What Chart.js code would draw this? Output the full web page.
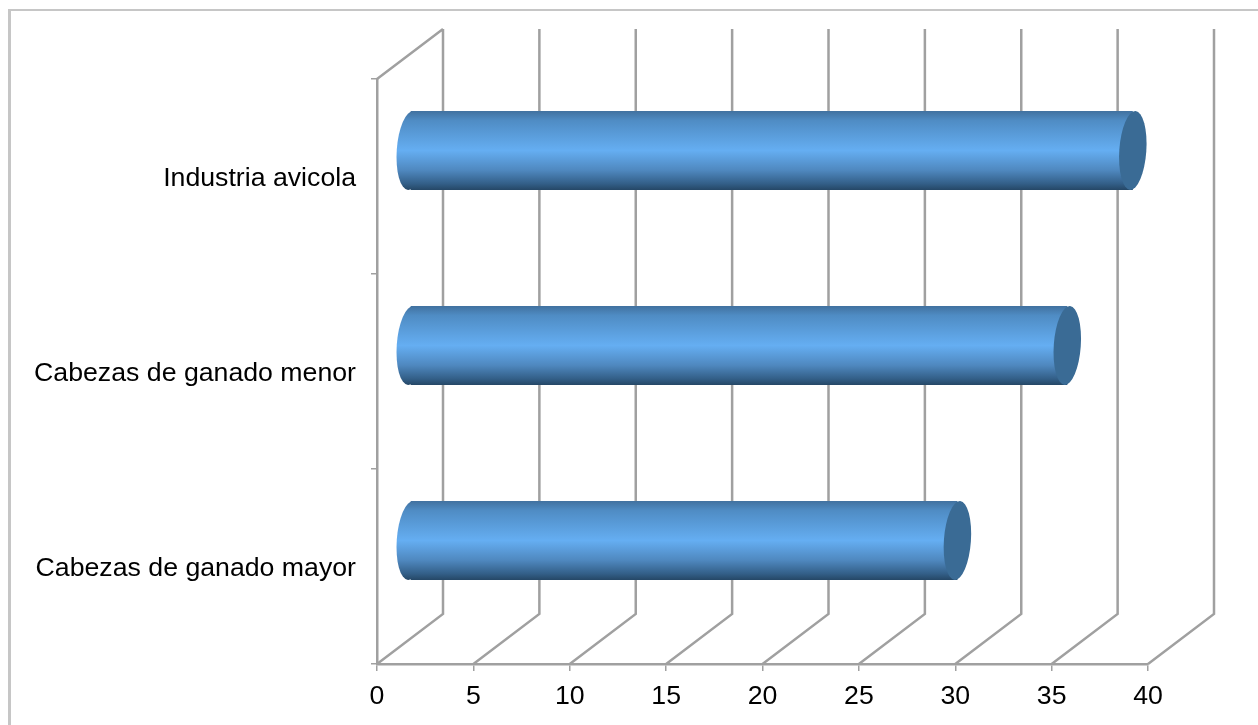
<!DOCTYPE html>
<html>
<head>
<meta charset="utf-8">
<script src="https://cdn.jsdelivr.net/npm/chart.js@4"></script>
<style>
    html, body { margin: 0; padding: 0; background: #fff; }
    #wrap { position: relative; width: 1258px; height: 725px; overflow: hidden; }
    #frame { position: absolute; left: 8px; top: 9px; width: 1300px; height: 800px; border-left: 3px solid #c6c6c6; border-top: 2px solid #c6c6c6; }
    canvas { position: absolute; left: 0; top: 0; }
</style>
</head>
<body>
<div id="wrap">
    <div id="frame"></div>
    <canvas id="chart" width="1258" height="725"></canvas>
</div>
<script>
const categories = ['Industria avicola', 'Cabezas de ganado menor', 'Cabezas de ganado mayor'];
const seriesValues = [37.5, 34.1, 28.4];
const tickLabels = [0, 5, 10, 15, 20, 25, 30, 35, 40];

const wallColor = '#a0a0a0';
const depthX = 66;   // back wall offset
const depthY = 50;
const barShiftX = 33; // bars stand in the middle of the depth
const barShiftY = 26;
const capTilt = 0.07;

function barGradient(ctx, top, bottom) {
    const g = ctx.createLinearGradient(0, top, 0, bottom);
    g.addColorStop(0, '#41719f');
    g.addColorStop(0.12, '#4f8cc4');
    g.addColorStop(0.5, '#65aef2');
    g.addColorStop(0.75, '#4f88bf');
    g.addColorStop(0.92, '#335f88');
    g.addColorStop(1, '#254766');
    return g;
}

// walls of the 3d box, behind everything
const wallsPlugin = {
    id: 'walls',
    beforeDatasetsDraw(chart) {
        const { ctx, chartArea, scales } = chart;
        ctx.save();
        ctx.strokeStyle = wallColor;
        ctx.lineWidth = 2.5;
        ctx.beginPath();
        tickLabels.forEach(function (t) {
            const x = scales.x.getPixelForValue(t);
            ctx.moveTo(x, chartArea.bottom);
            ctx.lineTo(x + depthX, chartArea.bottom - depthY);
            ctx.lineTo(x + depthX, chartArea.top - depthY);
        });
        ctx.moveTo(chartArea.left, chartArea.top);
        ctx.lineTo(chartArea.left + depthX, chartArea.top - depthY);
        ctx.stroke();
        ctx.restore();
    }
};

// shifts the native bars into the depth and adds the round ends
const cylinderPlugin = {
    id: 'cylinder',
    beforeDatasetDraw(chart) {
        const { ctx } = chart;
        ctx.save();
        ctx.translate(barShiftX, -barShiftY);
        chart.getDatasetMeta(0).data.forEach(function (bar) {
            const h = bar.height / 2;
            ctx.fillStyle = barGradient(ctx, bar.y - h, bar.y + h);
            ctx.beginPath();
            ctx.ellipse(bar.base, bar.y, 14, h, capTilt, 0, Math.PI * 2);
            ctx.fill();
        });
    },
    afterDatasetDraw(chart) {
        const { ctx } = chart;
        chart.getDatasetMeta(0).data.forEach(function (bar) {
            ctx.fillStyle = '#3a6b95';
            ctx.beginPath();
            ctx.ellipse(bar.x, bar.y, 13.5, bar.height / 2, capTilt, 0, Math.PI * 2);
            ctx.fill();
        });
        ctx.restore();
    }
};

// category labels sit 2px lower than the tick pixel
const labelNudgePlugin = {
    id: 'labelNudge',
    afterLayout(chart) {
        const s = chart.scales.y;
        if (s.nudged) return;
        s.nudged = true;
        const drawLabels = s.drawLabels;
        s.drawLabels = function (area) {
            chart.ctx.save();
            chart.ctx.translate(0, 2);
            drawLabels.call(s, area);
            chart.ctx.restore();
        };
    }
};

new Chart(document.getElementById('chart'), {
    type: 'bar',
    data: {
        labels: categories,
        datasets: [{
            data: seriesValues,
            categoryPercentage: 1,
            barPercentage: 0.405,
            borderWidth: 0,
            backgroundColor: function (c) {
                const chart = c.chart;
                if (!chart.chartArea || c.dataIndex === undefined) return '#65aef2';
                const y = chart.scales.y.getPixelForValue(c.dataIndex);
                return barGradient(chart.ctx, y - 39.5, y + 39.5);
            }
        }]
    },
    plugins: [wallsPlugin, cylinderPlugin, labelNudgePlugin],
    options: {
        indexAxis: 'y',
        responsive: false,
        animation: false,
        layout: { padding: { left: 0, top: 79, right: 110, bottom: 0 } },
        plugins: { legend: { display: false }, tooltip: { enabled: false } },
        scales: {
            x: {
                min: 0,
                max: 40,
                afterFit: function (s) { s.height = 61; },
                afterBuildTicks: function (s) { s.ticks = tickLabels.map(function (v) { return { value: v }; }); },
                grid: { drawOnChartArea: false, color: wallColor, tickLength: 7, lineWidth: 1.5 },
                border: { color: wallColor, width: 2.5 },
                ticks: { color: '#000', font: { family: 'Liberation Sans', size: 26.7 }, padding: 10, maxRotation: 0, autoSkip: false }
            },
            y: {
                afterFit: function (s) { s.width = 377; },
                grid: { drawOnChartArea: false, color: wallColor, tickLength: 6, lineWidth: 1.5, offset: true },
                border: { color: wallColor, width: 2.5 },
                ticks: { color: '#000', font: { family: 'Liberation Sans', size: 26.7 }, padding: 15 }
            }
        }
    }
});
</script>
</body>
</html>
